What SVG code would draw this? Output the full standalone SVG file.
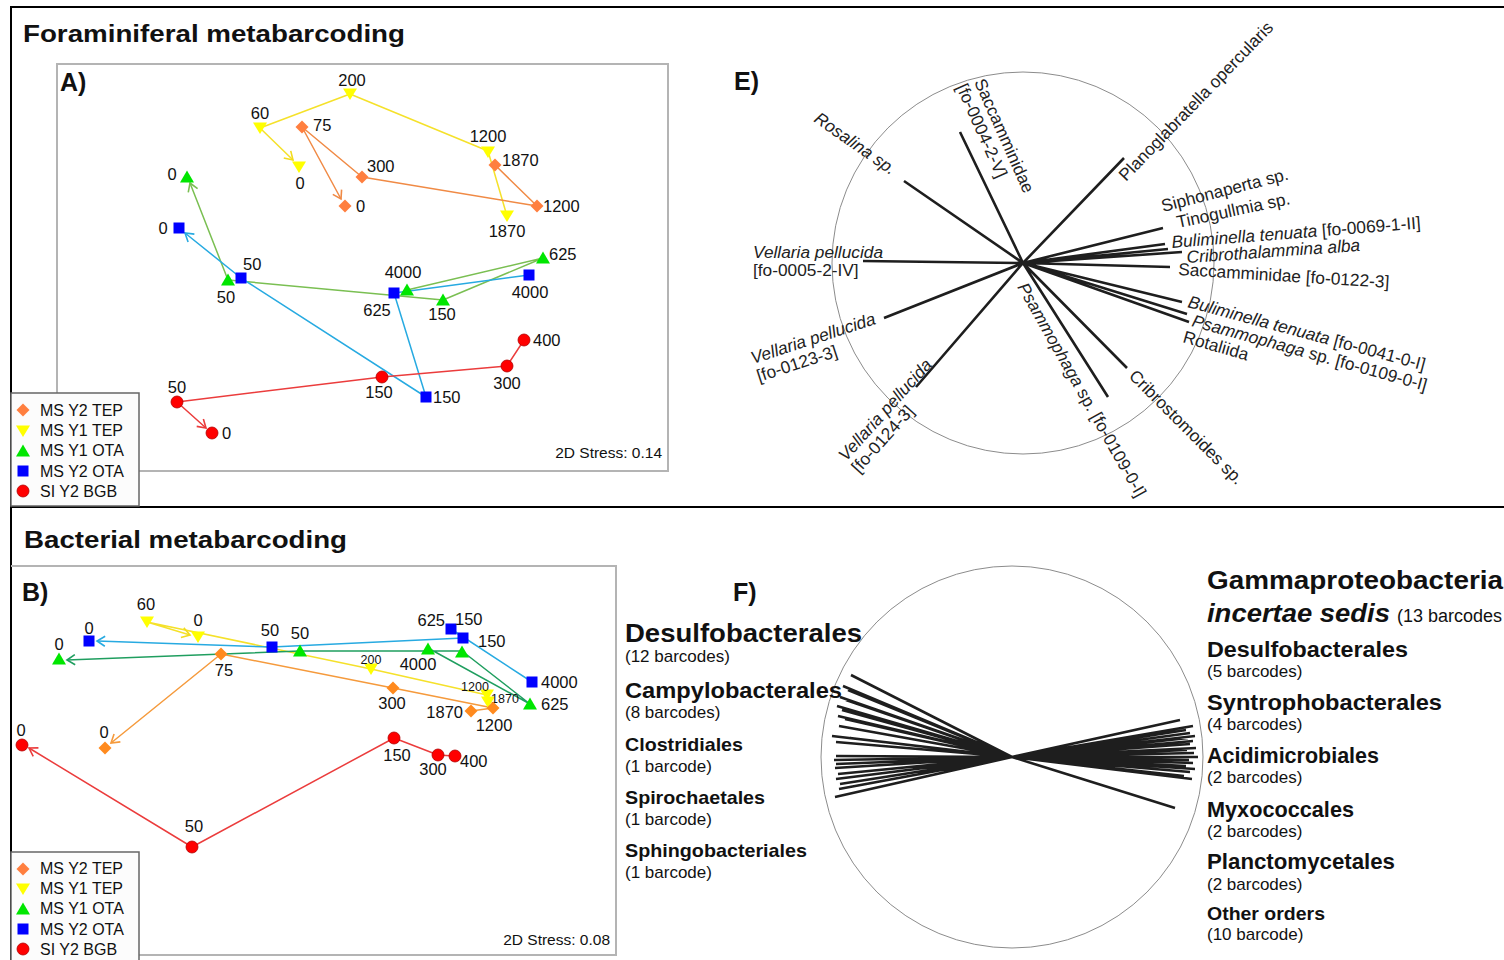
<svg xmlns="http://www.w3.org/2000/svg" width="1504" height="960" viewBox="0 0 1504 960">
<style>
text{font-family:"Liberation Sans",Arial,sans-serif;fill:#111}
.ttl{font-size:24px;font-weight:bold}
.pl{font-size:25px;font-weight:bold}
.n{font-size:16.5px}
.s{font-size:12.5px}
.m{text-anchor:middle}
.e{text-anchor:end}
.lg{font-size:16px}
.st{font-size:15.5px}
.et{font-size:17.3px;fill:#222}
.i{font-style:italic}
.fb{font-weight:bold}
.fs{font-size:17px}
.frame{stroke:#000;stroke-width:2;fill:none}
.bx{fill:none;stroke:#b4b4b4;stroke-width:2}
.leg{fill:#fcfcfc;stroke:#666;stroke-width:1.5}
.cir{fill:none;stroke:#8c8c8c;stroke-width:1}
.vec{stroke:#1e1e1e;stroke-width:2.6;fill:none}
.ln{fill:none;stroke-width:1.5;stroke-linejoin:round}
.or{fill:#ff7f3f}.orb{fill:#ff8a1e}.ye{fill:#ffff00}.gr{fill:#00e600}.bl{fill:#0000ff}.rd{fill:#ff0000;stroke:#b00000;stroke-width:0.8}
.cYe{stroke:#f5e12a}.cOrA{stroke:#f08a45}.cGrA{stroke:#7abf52}.cBl{stroke:#27aae1}.cRd{stroke:#eb3c3c}.cOrB{stroke:#f59a3c}.cGrB{stroke:#1f9e5f}
</style>
<defs>
<path id="dm" d="M0,-6.5L6.5,0L0,6.5L-6.5,0Z"/>
<path id="td" d="M-7,-5.5L7,-5.5L0,6Z"/>
<path id="tu" d="M0,-6.5L7,5.5L-7,5.5Z"/>
<rect id="sq" x="-5.5" y="-5.5" width="11" height="11"/>
<circle id="ci" r="6"/>
<marker id="aYe" viewBox="-10 -6 12 12" refX="0" refY="0" markerWidth="12" markerHeight="12" markerUnits="userSpaceOnUse" orient="auto"><path d="M-8,-5L0,0L-8,5" fill="none" stroke="#f2dc1e" stroke-width="1.6"/></marker>
<marker id="aOrA" viewBox="-10 -6 12 12" refX="0" refY="0" markerWidth="12" markerHeight="12" markerUnits="userSpaceOnUse" orient="auto"><path d="M-8,-5L0,0L-8,5" fill="none" stroke="#f08a45" stroke-width="1.6"/></marker>
<marker id="aGrA" viewBox="-10 -6 12 12" refX="0" refY="0" markerWidth="12" markerHeight="12" markerUnits="userSpaceOnUse" orient="auto"><path d="M-8,-5L0,0L-8,5" fill="none" stroke="#7abf52" stroke-width="1.6"/></marker>
<marker id="aBl" viewBox="-10 -6 12 12" refX="0" refY="0" markerWidth="12" markerHeight="12" markerUnits="userSpaceOnUse" orient="auto"><path d="M-8,-5L0,0L-8,5" fill="none" stroke="#27aae1" stroke-width="1.6"/></marker>
<marker id="aRd" viewBox="-10 -6 12 12" refX="0" refY="0" markerWidth="12" markerHeight="12" markerUnits="userSpaceOnUse" orient="auto"><path d="M-8,-5L0,0L-8,5" fill="none" stroke="#eb3c3c" stroke-width="1.6"/></marker>
<marker id="aOrB" viewBox="-10 -6 12 12" refX="0" refY="0" markerWidth="12" markerHeight="12" markerUnits="userSpaceOnUse" orient="auto"><path d="M-8,-5L0,0L-8,5" fill="none" stroke="#f59a3c" stroke-width="1.6"/></marker>
<marker id="aGrB" viewBox="-10 -6 12 12" refX="0" refY="0" markerWidth="12" markerHeight="12" markerUnits="userSpaceOnUse" orient="auto"><path d="M-8,-5L0,0L-8,5" fill="none" stroke="#1f9e5f" stroke-width="1.6"/></marker>
</defs>
<rect width="1504" height="960" fill="#fff"/>

<!-- frame -->
<g id="frame">
<path class="frame" d="M10,7H1504M11,6V960M10,507H1504"/>
<text class="ttl" x="23" y="42" textLength="382" lengthAdjust="spacingAndGlyphs">Foraminiferal metabarcoding</text>
<text class="ttl" x="24" y="548" textLength="323" lengthAdjust="spacingAndGlyphs">Bacterial metabarcoding</text>
</g>

<!-- ===== Panel A ===== -->
<g id="panelA">
<rect class="bx" x="57" y="64" width="611" height="407"/>
<text class="pl" x="60" y="91">A)</text>
<text class="st e" x="662" y="458">2D Stress: 0.14</text>
</g>
<g id="connectorsA">
<polyline class="ln cYe" points="507,216 488,151 350,94 260,128 293,160" marker-end="url(#aYe)"/>
<polyline class="ln cOrA" points="495,165 537,206 362,177 302,127 341,199" marker-end="url(#aOrA)"/>
<polyline class="ln cGrA" points="407,290 543,258 443,300 228,280 190,183" marker-end="url(#aGrA)"/>
<polyline class="ln cBl" points="529,275 394,293 426,397 241,278 185,233" marker-end="url(#aBl)"/>
<polyline class="ln cRd" points="524,340 507,366 382,377 177,402 206,428" marker-end="url(#aRd)"/>
</g>
<g id="A-MSY1TEP">
<use href="#td" class="ye" x="350" y="94"/><use href="#td" class="ye" x="260" y="128"/><use href="#td" class="ye" x="299" y="167"/><use href="#td" class="ye" x="488" y="152"/><use href="#td" class="ye" x="507" y="216"/>
<text class="n m" x="352" y="86">200</text><text class="n m" x="260" y="119">60</text><text class="n m" x="300" y="189">0</text><text class="n m" x="488" y="142">1200</text><text class="n m" x="507" y="237">1870</text>
</g>
<g id="A-MSY2TEP">
<use href="#dm" class="or" x="302" y="127"/><use href="#dm" class="or" x="362" y="177"/><use href="#dm" class="or" x="345" y="206"/><use href="#dm" class="or" x="495" y="165"/><use href="#dm" class="or" x="537" y="206"/>
<text class="n" x="313" y="131">75</text><text class="n" x="367" y="172">300</text><text class="n" x="356" y="212">0</text><text class="n" x="502" y="166">1870</text><text class="n" x="543" y="212">1200</text>
</g>
<g id="A-MSY1OTA">
<use href="#tu" class="gr" x="187" y="177"/><use href="#tu" class="gr" x="228" y="280"/><use href="#tu" class="gr" x="407" y="290"/><use href="#tu" class="gr" x="443" y="300"/><use href="#tu" class="gr" x="543" y="258"/>
<text class="n m" x="172" y="180">0</text><text class="n m" x="226" y="303">50</text><text class="n m" x="403" y="278">4000</text><text class="n m" x="442" y="320">150</text><text class="n" x="549" y="260">625</text>
</g>
<g id="A-MSY2OTA">
<use href="#sq" class="bl" x="179" y="228"/><use href="#sq" class="bl" x="241" y="278"/><use href="#sq" class="bl" x="394" y="293"/><use href="#sq" class="bl" x="426" y="397"/><use href="#sq" class="bl" x="529" y="275"/>
<text class="n m" x="163" y="234">0</text><text class="n" x="243" y="270">50</text><text class="n m" x="377" y="316">625</text><text class="n" x="433" y="403">150</text><text class="n m" x="530" y="298">4000</text>
</g>
<g id="A-SIY2BGB">
<use href="#ci" class="rd" x="177" y="402"/><use href="#ci" class="rd" x="212" y="433"/><use href="#ci" class="rd" x="382" y="377"/><use href="#ci" class="rd" x="507" y="366"/><use href="#ci" class="rd" x="524" y="340"/>
<text class="n m" x="177" y="393">50</text><text class="n" x="222" y="439">0</text><text class="n m" x="379" y="398">150</text><text class="n m" x="507" y="389">300</text><text class="n" x="533" y="346">400</text>
</g>
<g id="A-legend">
<rect class="leg" x="11" y="393" width="128" height="113"/>
<use href="#dm" class="or" x="23" y="410"/><text class="lg" x="40" y="416">MS Y2 TEP</text>
<use href="#td" class="ye" x="23" y="431"/><text class="lg" x="40" y="436">MS Y1 TEP</text>
<use href="#tu" class="gr" x="23" y="451"/><text class="lg" x="40" y="456">MS Y1 OTA</text>
<use href="#sq" class="bl" x="23" y="471"/><text class="lg" x="40" y="477">MS Y2 OTA</text>
<use href="#ci" class="rd" x="23" y="491"/><text class="lg" x="40" y="497">SI Y2 BGB</text>
</g>

<!-- ===== Panel E ===== -->
<g id="panelE">
<text class="pl" x="734" y="90">E)</text>
<circle class="cir" cx="1023" cy="263" r="191"/>
</g>
<g id="E-vectors">
<path class="vec" d="M1023,263L904,181M1023,263L960,132M1023,263L863,261M1023,263L884,318M1023,263L916,387M1023,263L1124,158M1023,263L1163,228M1023,263L1165,244M1023,263L1168,249M1023,263L1182,252M1023,263L1170,267M1023,263L1182,302M1023,263L1187,314M1023,263L1189,322M1023,263L1127,368M1023,263L1108,397"/>
</g>
<g id="E-labels">
<text class="et i" transform="translate(813,121) rotate(35)">Rosalina sp.</text>
<text class="et" transform="translate(974,82) rotate(66)">Saccamminidae</text>
<text class="et" transform="translate(956,87) rotate(66)">[fo-0004-2-V]</text>
<text class="et" transform="translate(1126,182) rotate(-46)">Planoglabratella opercularis</text>
<text class="et" transform="translate(1163,212) rotate(-14.5)">Siphonaperta sp.</text>
<text class="et" transform="translate(1178,228) rotate(-12)">Tinogullmia sp.</text>
<text class="et" transform="translate(1172,248) rotate(-4.5)"><tspan class="i">Buliminella tenuata</tspan> [fo-0069-1-II]</text>
<text class="et i" transform="translate(1187,263) rotate(-4)">Cribrothalammina alba</text>
<text class="et" transform="translate(1178,275) rotate(3.5)">Saccamminidae [fo-0122-3]</text>
<text class="et" transform="translate(1187,307) rotate(15)"><tspan class="i">Buliminella tenuata</tspan> [fo-0041-0-I]</text>
<text class="et" transform="translate(1191,326) rotate(15.5)"><tspan class="i">Psammophaga</tspan> sp. [fo-0109-0-I]</text>
<text class="et" transform="translate(1182,342) rotate(16)">Rotaliida</text>
<text class="et" transform="translate(1128,377) rotate(45)">Cribrostomoides sp.</text>
<text class="et" transform="translate(1017,287) rotate(60.5)"><tspan class="i">Psammophaga</tspan> sp. [fo-0109-0-I]</text>
<text class="et i" x="753" y="258">Vellaria pellucida</text>
<text class="et" x="753" y="276">[fo-0005-2-IV]</text>
<text class="et i" transform="translate(753,364) rotate(-18)">Vellaria pellucida</text>
<text class="et" transform="translate(759,382) rotate(-18)">[fo-0123-3]</text>
<text class="et i" transform="translate(846,462) rotate(-48)">Vellaria pellucida</text>
<text class="et" transform="translate(859,474) rotate(-48)">[fo-0124-3]</text>
</g>

<!-- ===== Panel B ===== -->
<g id="panelB">
<path class="bx" d="M11,566H616V955H11"/>
<text class="pl" x="22" y="601">B)</text>
<text class="st e" x="610" y="945">2D Stress: 0.08</text>
</g>
<g id="connectorsB">
<polyline class="ln cYe" points="487,702 487,695 371,669 147,622 190,635" marker-end="url(#aYe)"/>
<polyline class="ln cOrB" points="471,711 493,708 393,688 221,654 111,743" marker-end="url(#aOrB)"/>
<polyline class="ln cGrB" points="428,648 530,704 462,651 300,651 67,660" marker-end="url(#aGrB)"/>
<polyline class="ln cBl" points="532,682 451,629 463,638 272,647 97,641" marker-end="url(#aBl)"/>
<polyline class="ln cRd" points="454,756 438,755 394,738 192,847 29,748" marker-end="url(#aRd)"/>
</g>
<g id="B-MSY1TEP">
<use href="#td" class="ye" x="147" y="622"/><use href="#td" class="ye" x="198" y="637"/><use href="#td" class="ye" x="371" y="669"/><use href="#td" class="ye" x="487" y="695"/><use href="#td" class="ye" x="488" y="702"/>
<text class="n m" x="146" y="610">60</text><text class="n m" x="198" y="626">0</text><text class="s m" x="371" y="664">200</text><text class="s m" x="475" y="691">1200</text><text class="s m" x="505" y="703">1870</text>
</g>
<g id="B-MSY2TEP">
<use href="#dm" class="orb" x="221" y="654"/><use href="#dm" class="orb" x="105" y="748"/><use href="#dm" class="orb" x="393" y="688"/><use href="#dm" class="orb" x="471" y="711"/><use href="#dm" class="orb" x="493" y="708"/>
<text class="n m" x="224" y="676">75</text><text class="n m" x="104" y="738">0</text><text class="n m" x="392" y="709">300</text><text class="n e" x="463" y="718">1870</text><text class="n m" x="494" y="731">1200</text>
</g>
<g id="B-MSY1OTA">
<use href="#tu" class="gr" x="59" y="659"/><use href="#tu" class="gr" x="300" y="651"/><use href="#tu" class="gr" x="428" y="649"/><use href="#tu" class="gr" x="462" y="652"/><use href="#tu" class="gr" x="530" y="704"/>
<text class="n m" x="59" y="650">0</text><text class="n m" x="300" y="639">50</text><text class="n m" x="418" y="670">4000</text><text class="n" x="541" y="710">625</text>
</g>
<g id="B-MSY2OTA">
<use href="#sq" class="bl" x="89" y="641"/><use href="#sq" class="bl" x="272" y="647"/><use href="#sq" class="bl" x="451" y="629"/><use href="#sq" class="bl" x="463" y="638"/><use href="#sq" class="bl" x="532" y="682"/>
<text class="n m" x="89" y="634">0</text><text class="n m" x="270" y="636">50</text><text class="n e" x="445" y="626">625</text><text class="n" x="455" y="625">150</text><text class="n" x="478" y="647">150</text><text class="n" x="541" y="688">4000</text>
</g>
<g id="B-SIY2BGB">
<use href="#ci" class="rd" x="22" y="745"/><use href="#ci" class="rd" x="192" y="847"/><use href="#ci" class="rd" x="394" y="738"/><use href="#ci" class="rd" x="438" y="755"/><use href="#ci" class="rd" x="455" y="756"/>
<text class="n m" x="21" y="736">0</text><text class="n m" x="194" y="832">50</text><text class="n m" x="397" y="761">150</text><text class="n m" x="433" y="775">300</text><text class="n" x="460" y="767">400</text>
</g>
<g id="B-legend">
<rect class="leg" x="11" y="852" width="128" height="112"/>
<use href="#dm" class="or" x="23" y="869"/><text class="lg" x="40" y="874">MS Y2 TEP</text>
<use href="#td" class="ye" x="23" y="889"/><text class="lg" x="40" y="894">MS Y1 TEP</text>
<use href="#tu" class="gr" x="23" y="909"/><text class="lg" x="40" y="914">MS Y1 OTA</text>
<use href="#sq" class="bl" x="23" y="929"/><text class="lg" x="40" y="935">MS Y2 OTA</text>
<use href="#ci" class="rd" x="23" y="949"/><text class="lg" x="40" y="955">SI Y2 BGB</text>
</g>

<!-- ===== Panel F ===== -->
<g id="panelF">
<text class="pl" x="733" y="601">F)</text>
<circle class="cir" cx="1012" cy="757" r="191"/>
</g>
<g id="F-vectors">
<path class="vec" d="M1012,757L851,675M1012,757L843,686M1012,757L848,690M1012,757L840,697M1012,757L846,700M1012,757L837,706M1012,757L842,710M1012,757L838,716M1012,757L845,719M1012,757L839,726M1012,757L832,736M1012,757L850,738M1012,757L836,742M1012,757L836,756M1012,757L834,760M1012,757L836,764M1012,757L835,768M1012,757L838,774M1012,757L836,779M1012,757L840,784M1012,757L839,789M1012,757L835,797M1012,757L1180,720M1012,757L1193,726M1012,757L1186,730M1012,757L1190,733M1012,757L1195,736M1012,757L1188,738M1012,757L1193,741M1012,757L1190,744M1012,757L1196,748M1012,757L1187,750M1012,757L1194,753M1012,757L1198,757M1012,757L1189,760M1012,757L1193,763M1012,757L1186,766M1012,757L1195,769M1012,757L1190,772M1012,757L1184,776M1012,757L1192,779M1012,757L1175,808"/>
</g>
<g id="F-left-labels">
<text class="fb" x="625" y="642" font-size="25" textLength="237" lengthAdjust="spacingAndGlyphs">Desulfobacterales</text>
<text class="fs" x="625" y="662">(12 barcodes)</text>
<text class="fb" x="625" y="698" font-size="21.5" textLength="217" lengthAdjust="spacingAndGlyphs">Campylobacterales</text>
<text class="fs" x="625" y="718">(8 barcodes)</text>
<text class="fb" x="625" y="751" font-size="19" textLength="118" lengthAdjust="spacingAndGlyphs">Clostridiales</text>
<text class="fs" x="625" y="772">(1 barcode)</text>
<text class="fb" x="625" y="804" font-size="19" textLength="140" lengthAdjust="spacingAndGlyphs">Spirochaetales</text>
<text class="fs" x="625" y="825">(1 barcode)</text>
<text class="fb" x="625" y="857" font-size="19" textLength="182" lengthAdjust="spacingAndGlyphs">Sphingobacteriales</text>
<text class="fs" x="625" y="878">(1 barcode)</text>
</g>
<g id="F-right-labels">
<text class="fb" x="1207" y="589" font-size="25" textLength="296" lengthAdjust="spacingAndGlyphs">Gammaproteobacteria</text>
<text x="1207" y="622"><tspan class="fb i" font-size="25" textLength="183" lengthAdjust="spacingAndGlyphs">incertae sedis</tspan></text>
<text x="1397" y="622" font-size="18">(13 barcodes</text>
<text class="fb" x="1207" y="657" font-size="21.5" textLength="201" lengthAdjust="spacingAndGlyphs">Desulfobacterales</text>
<text class="fs" x="1207" y="677">(5 barcodes)</text>
<text class="fb" x="1207" y="710" font-size="21.5" textLength="235" lengthAdjust="spacingAndGlyphs">Syntrophobacterales</text>
<text class="fs" x="1207" y="730">(4 barcodes)</text>
<text class="fb" x="1207" y="763" font-size="21.5" textLength="172" lengthAdjust="spacingAndGlyphs">Acidimicrobiales</text>
<text class="fs" x="1207" y="783">(2 barcodes)</text>
<text class="fb" x="1207" y="817" font-size="21.5" textLength="147" lengthAdjust="spacingAndGlyphs">Myxococcales</text>
<text class="fs" x="1207" y="837">(2 barcodes)</text>
<text class="fb" x="1207" y="869" font-size="21.5" textLength="188" lengthAdjust="spacingAndGlyphs">Planctomycetales</text>
<text class="fs" x="1207" y="890">(2 barcodes)</text>
<text class="fb" x="1207" y="920" font-size="19" textLength="118" lengthAdjust="spacingAndGlyphs">Other orders</text>
<text class="fs" x="1207" y="940">(10 barcode)</text>
</g>
</svg>
